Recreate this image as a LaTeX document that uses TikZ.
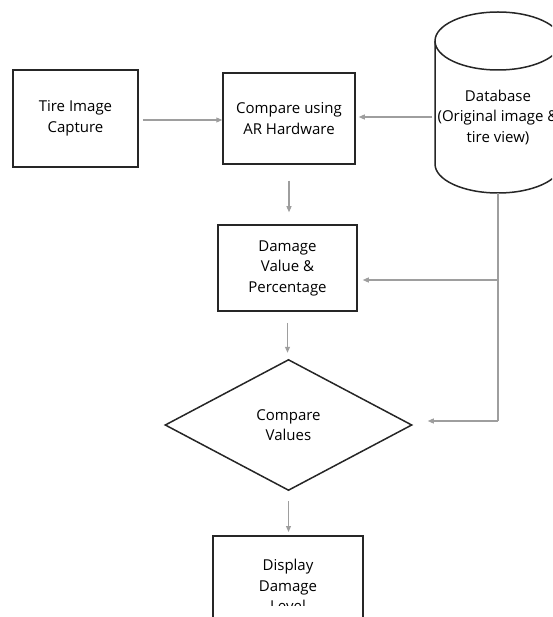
\documentclass[tikz,border=0pt]{standalone}
\usepackage{fontspec}
\setmainfont{Open Sans}
\usetikzlibrary{arrows.meta,shapes.geometric}

\tikzset{
  >={Triangle[length=6pt,width=5pt]},
  flow/.style={draw=black!85, line width=1.5pt, align=center, inner sep=0pt,
    font=\fontsize{15}{20.5}\selectfont},
  link/.style={->, draw=black!38, line width=1.1pt}
}

\begin{document}
\begin{tikzpicture}[x=1pt,y=-1pt]

 \useasboundingbox (0,0) rectangle (552,617);
 \clip (0,0) rectangle (552,617);

  \node[flow, minimum width=125pt, minimum height=97pt] (tire) at (75.5,118.5) {Tire Image\\Capture};
  \node[flow, minimum width=132pt, minimum height=91pt] (ar) at (289,118.5) {Compare using\\AR Hardware};
  \node[flow, minimum width=139pt, minimum height=86pt] (dmg) at (287.5,268) {Damage\\Value \&\\Percentage};
  \node[flow, diamond, minimum width=247pt, minimum height=131pt] (cmp) at (288.5,425) {Compare\\Values};
  \node[flow, minimum width=150pt, minimum height=100pt, anchor=north] (disp) at (288,535) {Display\\Damage\\Level};
  \fill[white] (214,606) rectangle (362,617);


  \draw[flow] (435,41) -- (435,164) arc[start angle=180, end angle=0, x radius=63, y radius=29] -- (561,41);
  \draw[flow] (498,41) ellipse [x radius=63, y radius=29];
  \node[flow, draw=none, minimum width=126pt] (db) at (498,117) {Database\\(Original image \&\\tire view)};

  \coordinate (dbbot) at (498,193);
  \coordinate (j1) at (498,280);
  \coordinate (j2) at (498,421);



  \draw[link, shorten <=4pt] (tire.east |- 0,120) -- (ar.west |- 0,120);
  \draw[link, shorten <=2pt, shorten >=3pt] (db.west) -- (db.west -| ar.east);
  \draw[link, shorten <=16pt, shorten >=12pt] (ar.south) -- (ar.south |- dmg.north);
  \draw[link, shorten <=11pt, shorten >=6pt] (dmg.south) -- (dmg.south |- cmp.north);
  \draw[link, shorten <=10pt, shorten >=3pt] (cmp.south) -- (cmp.south |- disp.north);
  \draw[link, -] (dbbot) -- (j2);
  \draw[link, shorten >=5pt] (j1) -- (j1 -| dmg.east);
  \draw[link, shorten >=15pt] (j2) -- (j2 -| cmp.east);
\end{tikzpicture}
\end{document}
